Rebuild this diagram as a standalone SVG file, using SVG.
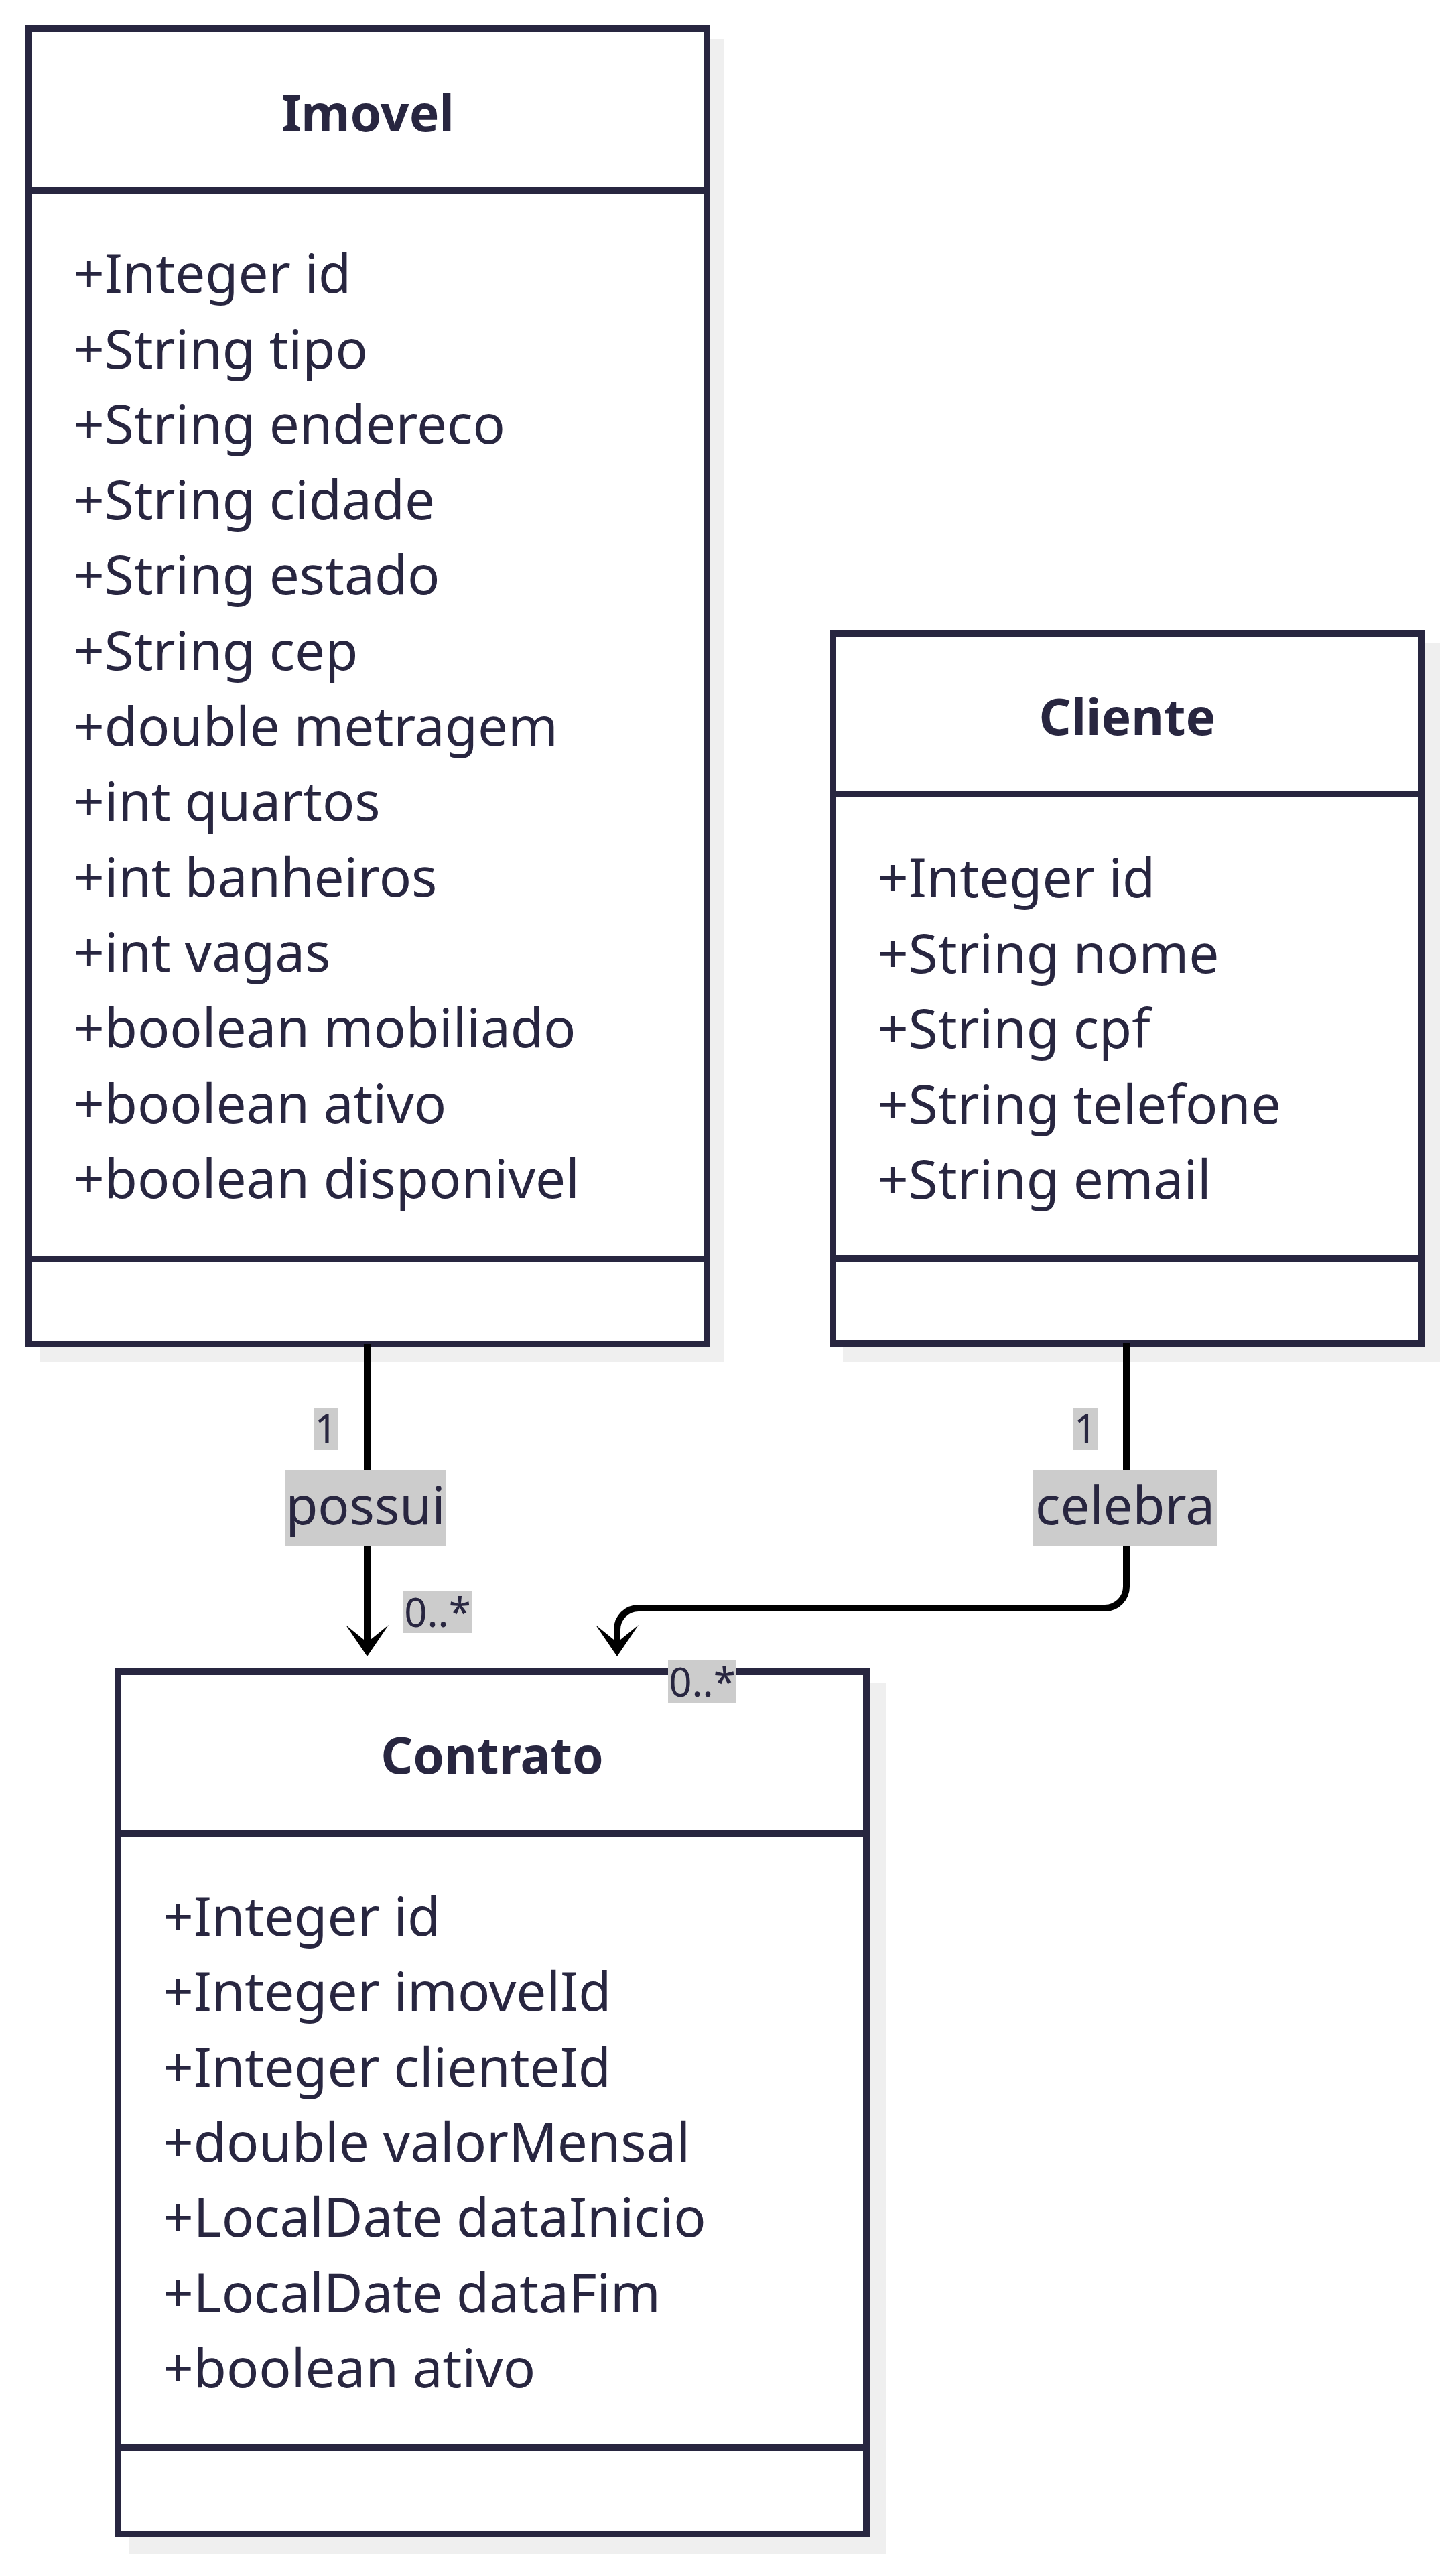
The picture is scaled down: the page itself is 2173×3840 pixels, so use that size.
<svg xmlns="http://www.w3.org/2000/svg" width="2173" height="3840" viewBox="0 0 2173 3840">
<defs>
<style>
.shadow{fill:#efefef;stroke:none}
.box{fill:#ffffff;stroke:#282640;stroke-width:10}
.div{stroke:#282640;stroke-width:10}
.title{font-family:"Noto Sans",sans-serif;font-weight:bold;font-size:75px;fill:#282640;text-anchor:middle}
.attr{font-family:"Noto Sans",sans-serif;font-size:80px;fill:#282640}
.edge{fill:none;stroke:#000000;stroke-width:10}
.lbg{fill:#cccccc}
.lbl{font-family:"Noto Sans",sans-serif;font-size:78px;fill:#282640;text-anchor:middle}
.card{font-family:"Noto Sans",sans-serif;font-size:60px;fill:#282640;text-anchor:middle}
</style>
<marker id="arr" markerUnits="userSpaceOnUse" markerWidth="48" markerHeight="64" viewBox="0 0 48 64" refX="26" refY="32" orient="auto">
<path d="M47,32 L0,0 L26,32 L0,64 Z" fill="#000000"/>
</marker>
</defs>
<rect width="2173" height="3840" fill="#ffffff"/>

<g id="node-Imovel">
<rect class="shadow" x="59" y="58" width="1022" height="1975"/>
<rect class="box" x="43" y="43" width="1012" height="1963"/>
<line class="div" x1="43" y1="284" x2="1055" y2="284"/>
<line class="div" x1="43" y1="1879" x2="1055" y2="1879"/>
<text class="title" x="549" y="196">Imovel</text>
<text class="attr" x="110" y="437">+Integer id</text>
<text class="attr" x="110" y="549.6">+String tipo</text>
<text class="attr" x="110" y="662.2">+String endereco</text>
<text class="attr" x="110" y="774.8">+String cidade</text>
<text class="attr" x="110" y="887.4">+String estado</text>
<text class="attr" x="110" y="1000">+String cep</text>
<text class="attr" x="110" y="1112.6">+double metragem</text>
<text class="attr" x="110" y="1225.2">+int quartos</text>
<text class="attr" x="110" y="1337.8">+int banheiros</text>
<text class="attr" x="110" y="1450.4">+int vagas</text>
<text class="attr" x="110" y="1563">+boolean mobiliado</text>
<text class="attr" x="110" y="1675.6">+boolean ativo</text>
<text class="attr" x="110" y="1788.2">+boolean disponivel</text>
</g>

<g id="node-Cliente">
<rect class="shadow" x="1258" y="960" width="891" height="1073"/>
<rect class="box" x="1243" y="945" width="879" height="1060"/>
<line class="div" x1="1243" y1="1185" x2="2122" y2="1185"/>
<line class="div" x1="1243" y1="1878" x2="2122" y2="1878"/>
<text class="title" x="1682.5" y="1097">Cliente</text>
<text class="attr" x="1310" y="1339">+Integer id</text>
<text class="attr" x="1310" y="1451.5">+String nome</text>
<text class="attr" x="1310" y="1564">+String cpf</text>
<text class="attr" x="1310" y="1676.5">+String telefone</text>
<text class="attr" x="1310" y="1789">+String email</text>
</g>

<g id="node-Contrato">
<rect class="shadow" x="192" y="2511" width="1130" height="1300"/>
<rect class="box" x="176" y="2495" width="1117" height="1287"/>
<line class="div" x1="176" y1="2736" x2="1293" y2="2736"/>
<line class="div" x1="176" y1="3653" x2="1293" y2="3653"/>
<text class="title" x="734.5" y="2647">Contrato</text>
<text class="attr" x="243" y="2889">+Integer id</text>
<text class="attr" x="243" y="3001.3">+Integer imovelId</text>
<text class="attr" x="243" y="3113.6">+Integer clienteId</text>
<text class="attr" x="243" y="3225.9">+double valorMensal</text>
<text class="attr" x="243" y="3338.2">+LocalDate dataInicio</text>
<text class="attr" x="243" y="3450.5">+LocalDate dataFim</text>
<text class="attr" x="243" y="3562.8">+boolean ativo</text>
</g>

<g id="connectors">
<g id="edge-possui">
<path class="edge" d="M548,2006 L548,2451" marker-end="url(#arr)"/>
<rect class="lbg" x="425" y="2194" width="241" height="113"/>
<text class="lbl" x="545.5" y="2275">possui</text>
<rect class="lbg" x="468" y="2101" width="37" height="63"/>
<text class="card" x="486.5" y="2154">1</text>
<rect class="lbg" x="602" y="2374" width="102" height="63"/>
<text class="card" x="653" y="2428">0..*</text>
</g>
<g id="edge-celebra">
<path class="edge" d="M1681,2005 L1681,2368 A32,32 0 0 1 1649,2400 L953,2400 A32,32 0 0 0 921,2432 L921,2451" marker-end="url(#arr)"/>
<rect class="lbg" x="1542" y="2194" width="274" height="113"/>
<text class="lbl" x="1679" y="2275">celebra</text>
<rect class="lbg" x="1601" y="2101" width="38" height="63"/>
<text class="card" x="1620" y="2154">1</text>
<rect class="lbg" x="997" y="2478" width="102" height="63"/>
<text class="card" x="1048" y="2532">0..*</text>
</g>
</g>
</svg>
